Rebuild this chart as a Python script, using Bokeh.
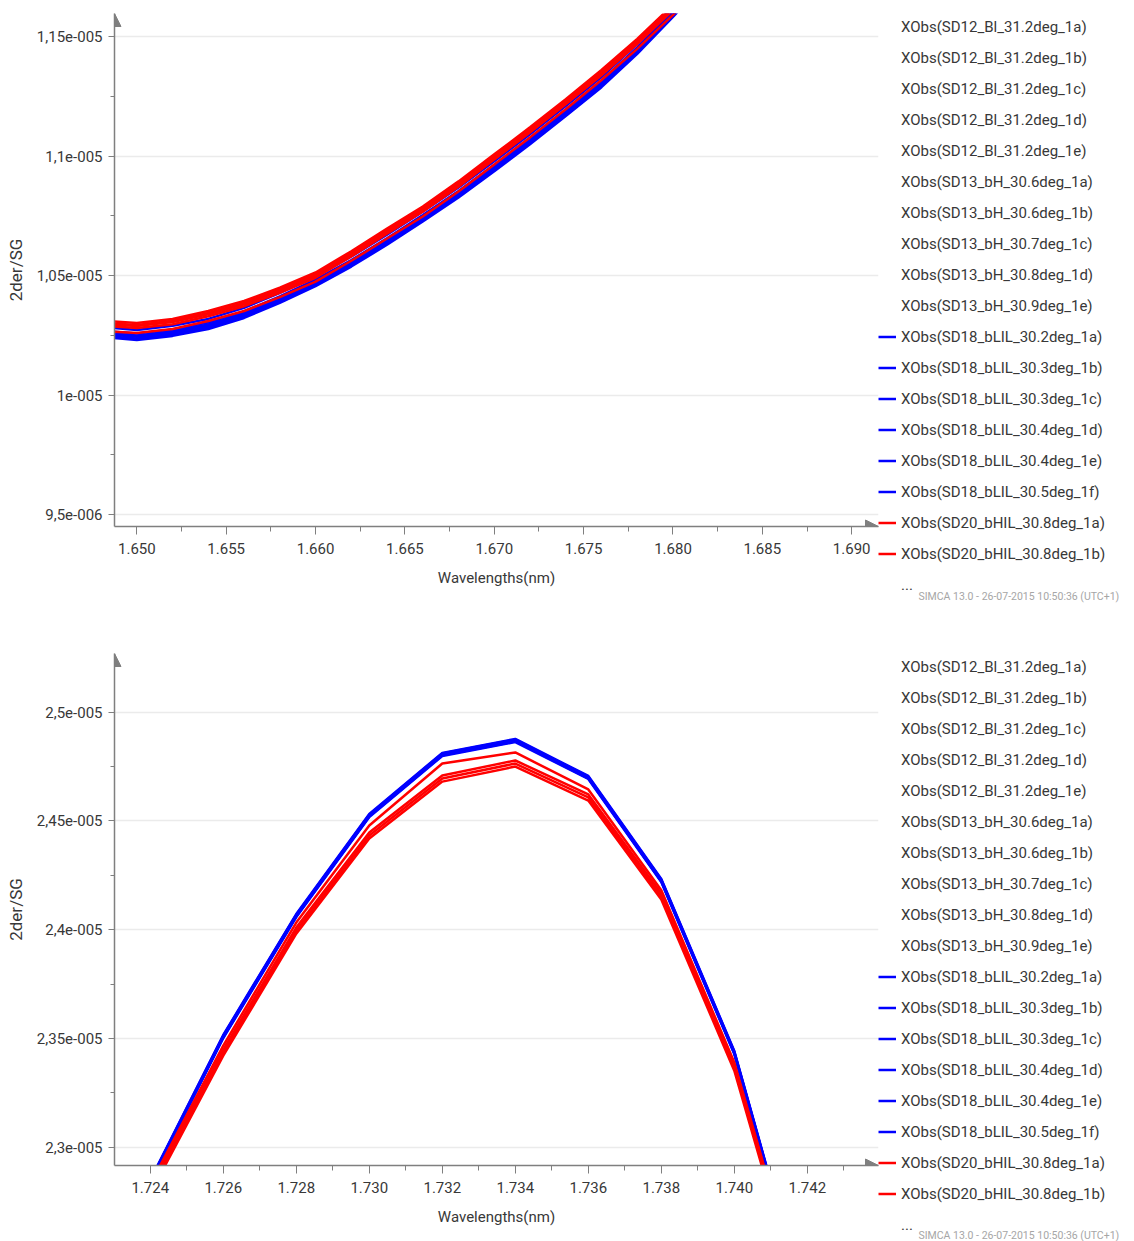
from bokeh.plotting import figure
from bokeh.layouts import column
from bokeh.models import (Range1d, FixedTicker, CustomJSTickFormatter, Legend, LegendItem,
                          Title, Arrow, NormalHead)
from bokeh.embed import file_html
from bokeh.resources import INLINE

FONT = "Roboto"
TXT = "#383838"
AXC = "#7f7f7f"
GRID = "#ebebeb"
BLUE = "#0000ff"
RED = "#ff0000"

# ---------------- legend labels ----------------
names_plain = ["XObs(SD12_Bl_31.2deg_1a)", "XObs(SD12_Bl_31.2deg_1b)", "XObs(SD12_Bl_31.2deg_1c)",
               "XObs(SD12_Bl_31.2deg_1d)", "XObs(SD12_Bl_31.2deg_1e)",
               "XObs(SD13_bH_30.6deg_1a)", "XObs(SD13_bH_30.6deg_1b)", "XObs(SD13_bH_30.7deg_1c)",
               "XObs(SD13_bH_30.8deg_1d)", "XObs(SD13_bH_30.9deg_1e)"]
names_blue = ["XObs(SD18_bLIL_30.2deg_1a)", "XObs(SD18_bLIL_30.3deg_1b)", "XObs(SD18_bLIL_30.3deg_1c)",
              "XObs(SD18_bLIL_30.4deg_1d)", "XObs(SD18_bLIL_30.4deg_1e)", "XObs(SD18_bLIL_30.5deg_1f)"]
names_red = ["XObs(SD20_bHIL_30.8deg_1a)", "XObs(SD20_bHIL_30.8deg_1b)"]
more_label = "..."
footer = "SIMCA 13.0 - 26-07-2015 10:50:36 (UTC+1)"

# ---------------- top chart data (wavelength nm, 2der/SG) ----------------
wl_top = [1648, 1650, 1652, 1654, 1656, 1658, 1660, 1662, 1664, 1666, 1668, 1670, 1672, 1674, 1676, 1678, 1680, 1682]

top_blue_1a = [1.0243e-5, 1.0231e-5, 1.0248e-5, 1.0277e-5, 1.0323e-5, 1.0386e-5, 1.0456e-5, 1.0538e-5, 1.0629e-5, 1.0726e-5, 1.0827e-5, 1.0936e-5, 1.1049e-5, 1.1167e-5, 1.1288e-5, 1.1427e-5, 1.1582e-5, 1.1741e-5]
top_blue_1b = [1.0249e-5, 1.0237e-5, 1.0254e-5, 1.0283e-5, 1.0329e-5, 1.0392e-5, 1.0462e-5, 1.0544e-5, 1.0635e-5, 1.0732e-5, 1.0833e-5, 1.0942e-5, 1.1055e-5, 1.1173e-5, 1.1294e-5, 1.1433e-5, 1.1588e-5, 1.1747e-5]
top_blue_1c = [1.0256e-5, 1.0244e-5, 1.0261e-5, 1.0290e-5, 1.0336e-5, 1.0399e-5, 1.0469e-5, 1.0551e-5, 1.0642e-5, 1.0739e-5, 1.0840e-5, 1.0949e-5, 1.1062e-5, 1.1180e-5, 1.1301e-5, 1.1440e-5, 1.1595e-5, 1.1754e-5]
top_blue_1d = [1.0262e-5, 1.0250e-5, 1.0267e-5, 1.0296e-5, 1.0342e-5, 1.0405e-5, 1.0475e-5, 1.0557e-5, 1.0648e-5, 1.0745e-5, 1.0846e-5, 1.0955e-5, 1.1068e-5, 1.1186e-5, 1.1307e-5, 1.1446e-5, 1.1601e-5, 1.1760e-5]
top_blue_1e = [1.0270e-5, 1.0258e-5, 1.0275e-5, 1.0304e-5, 1.0350e-5, 1.0413e-5, 1.0483e-5, 1.0565e-5, 1.0656e-5, 1.0753e-5, 1.0854e-5, 1.0963e-5, 1.1076e-5, 1.1194e-5, 1.1315e-5, 1.1454e-5, 1.1609e-5, 1.1768e-5]
top_blue_1f = [1.0285e-5, 1.0273e-5, 1.0290e-5, 1.0319e-5, 1.0365e-5, 1.0428e-5, 1.0498e-5, 1.0580e-5, 1.0671e-5, 1.0768e-5, 1.0869e-5, 1.0978e-5, 1.1091e-5, 1.1209e-5, 1.1330e-5, 1.1469e-5, 1.1624e-5, 1.1783e-5]

top_red_1a = [1.0311e-5, 1.0302e-5, 1.0319e-5, 1.0352e-5, 1.0394e-5, 1.0450e-5, 1.0513e-5, 1.0602e-5, 1.0697e-5, 1.0789e-5, 1.0894e-5, 1.1007e-5, 1.1120e-5, 1.1238e-5, 1.1360e-5, 1.1490e-5, 1.1632e-5, 1.1783e-5]
top_red_1b = [1.0303e-5, 1.0294e-5, 1.0311e-5, 1.0344e-5, 1.0386e-5, 1.0442e-5, 1.0505e-5, 1.0594e-5, 1.0689e-5, 1.0781e-5, 1.0886e-5, 1.0999e-5, 1.1112e-5, 1.1230e-5, 1.1352e-5, 1.1482e-5, 1.1624e-5, 1.1775e-5]
top_red_1c = [1.0297e-5, 1.0289e-5, 1.0306e-5, 1.0338e-5, 1.0380e-5, 1.0436e-5, 1.0499e-5, 1.0588e-5, 1.0683e-5, 1.0775e-5, 1.0880e-5, 1.0993e-5, 1.1106e-5, 1.1224e-5, 1.1346e-5, 1.1476e-5, 1.1618e-5, 1.1769e-5]
top_red_1d = [1.0290e-5, 1.0281e-5, 1.0297e-5, 1.0330e-5, 1.0372e-5, 1.0428e-5, 1.0491e-5, 1.0580e-5, 1.0675e-5, 1.0767e-5, 1.0872e-5, 1.0985e-5, 1.1098e-5, 1.1216e-5, 1.1338e-5, 1.1468e-5, 1.1610e-5, 1.1761e-5]
top_red_1e = [1.0269e-5, 1.0260e-5, 1.0277e-5, 1.0310e-5, 1.0352e-5, 1.0410e-5, 1.0475e-5, 1.0562e-5, 1.0655e-5, 1.0747e-5, 1.0852e-5, 1.0965e-5, 1.1078e-5, 1.1196e-5, 1.1318e-5, 1.1448e-5, 1.1590e-5, 1.1741e-5]

top_xticks = [1650, 1655, 1660, 1665, 1670, 1675, 1680, 1685, 1690]
top_xminor = [1652.5, 1657.5, 1662.5, 1667.5, 1672.5, 1677.5, 1682.5, 1687.5]
top_yticks = [9.5e-6, 1.0e-5, 1.05e-5, 1.1e-5, 1.15e-5]
top_yminor = [9.75e-6, 1.025e-5, 1.075e-5, 1.125e-5]

# ---------------- bottom chart data ----------------
wl_bot = [1724, 1726, 1728, 1730, 1732, 1734, 1736, 1738, 1740, 1742]

bot_blue_1a = [2.2849e-5, 2.3516e-5, 2.4072e-5, 2.4532e-5, 2.4813e-5, 2.4877e-5, 2.4707e-5, 2.4233e-5, 2.3442e-5, 2.2242e-5]
bot_blue_1b = [2.2846e-5, 2.3513e-5, 2.4069e-5, 2.4529e-5, 2.4810e-5, 2.4874e-5, 2.4704e-5, 2.4230e-5, 2.3439e-5, 2.2239e-5]
bot_blue_1c = [2.2843e-5, 2.3510e-5, 2.4066e-5, 2.4526e-5, 2.4807e-5, 2.4871e-5, 2.4701e-5, 2.4227e-5, 2.3436e-5, 2.2236e-5]
bot_blue_1d = [2.2840e-5, 2.3507e-5, 2.4063e-5, 2.4523e-5, 2.4804e-5, 2.4868e-5, 2.4698e-5, 2.4224e-5, 2.3433e-5, 2.2233e-5]
bot_blue_1e = [2.2838e-5, 2.3505e-5, 2.4061e-5, 2.4521e-5, 2.4802e-5, 2.4866e-5, 2.4696e-5, 2.4222e-5, 2.3431e-5, 2.2231e-5]
bot_blue_1f = [2.2835e-5, 2.3502e-5, 2.4058e-5, 2.4518e-5, 2.4799e-5, 2.4863e-5, 2.4693e-5, 2.4219e-5, 2.3428e-5, 2.2228e-5]

bot_red_1a = [2.2829e-5, 2.3467e-5, 2.4033e-5, 2.4479e-5, 2.4764e-5, 2.4815e-5, 2.4645e-5, 2.4181e-5, 2.3389e-5, 2.2221e-5]
bot_red_1b = [2.2815e-5, 2.3449e-5, 2.4010e-5, 2.4447e-5, 2.4709e-5, 2.4778e-5, 2.4622e-5, 2.4167e-5, 2.3380e-5, 2.2217e-5]
bot_red_1c = [2.2801e-5, 2.3435e-5, 2.3996e-5, 2.4433e-5, 2.4695e-5, 2.4764e-5, 2.4608e-5, 2.4153e-5, 2.3366e-5, 2.2203e-5]
bot_red_1d = [2.2787e-5, 2.3421e-5, 2.3982e-5, 2.4419e-5, 2.4681e-5, 2.4750e-5, 2.4594e-5, 2.4139e-5, 2.3352e-5, 2.2189e-5]

bot_xticks = [1724, 1726, 1728, 1730, 1732, 1734, 1736, 1738, 1740, 1742]
bot_xminor = [1725, 1727, 1729, 1731, 1733, 1735, 1737, 1739, 1741, 1743]
bot_yticks = [2.3e-5, 2.35e-5, 2.4e-5, 2.45e-5, 2.5e-5]
bot_yminor = [2.325e-5, 2.375e-5, 2.425e-5, 2.475e-5]

Y_FMT = """
const a = Math.abs(tick);
if (a === 0) { return "0"; }
const e = Math.floor(Math.log10(a) + 1e-9);
const m = tick / Math.pow(10, e);
const ms = String(parseFloat(m.toFixed(3))).replace(".", ",");
const es = (e < 0 ? "-" : "+") + String(Math.abs(e)).padStart(3, "0");
return ms + "e" + es;
"""
X_FMT = "return (tick / 1000).toFixed(3);"


def make_plot(wl, blues, reds, xr, yr, xt, xm, yt, ym, fheight, btop, bbottom):
    p = figure(frame_width=764, frame_height=fheight, output_backend="svg", toolbar_location=None,
               x_range=Range1d(*xr), y_range=Range1d(*yr),
               min_border_left=114, min_border_right=0,
               min_border_top=btop, min_border_bottom=bbottom)
    p.outline_line_color = None
    p.background_fill_color = "white"
    p.border_fill_color = "white"

    p.xaxis.ticker = FixedTicker(ticks=xt, minor_ticks=xm)
    p.yaxis.ticker = FixedTicker(ticks=yt, minor_ticks=ym)
    p.xaxis.formatter = CustomJSTickFormatter(code=X_FMT)
    p.yaxis.formatter = CustomJSTickFormatter(code=Y_FMT)
    p.xgrid.visible = False
    p.ygrid.grid_line_color = GRID
    p.ygrid.grid_line_width = 1.5

    for ax in (p.xaxis[0], p.yaxis[0]):
        ax.axis_line_color = AXC
        ax.axis_line_width = 1.5
        ax.major_tick_line_color = AXC
        ax.minor_tick_line_color = AXC
        ax.major_tick_in = 0
        ax.minor_tick_in = 0
        ax.major_label_text_font = FONT
        ax.major_label_text_font_size = "15px"
        ax.major_label_text_color = TXT
        ax.axis_label_text_font = FONT
        ax.axis_label_text_font_style = "normal"
        ax.axis_label_text_color = TXT
    p.xaxis.major_tick_out = 8
    p.xaxis.minor_tick_out = 5
    p.yaxis.major_tick_out = 6
    p.yaxis.minor_tick_out = 4
    p.xaxis.major_label_standoff = 8
    p.yaxis.major_label_standoff = 6
    p.xaxis.axis_label = "Wavelengths(nm)"
    p.yaxis.axis_label = "2der/SG"
    p.xaxis.axis_label_text_font_size = "15px"
    p.yaxis.axis_label_text_font_size = "17px"
    p.xaxis.axis_label_standoff = 12
    p.yaxis.axis_label_standoff = 8

    items = []
    for n in names_plain:
        r = p.line(x=[], y=[], line_alpha=0)
        items.append(LegendItem(label=n, renderers=[r]))
    for i, ys in enumerate(blues):
        r = p.line(wl, ys, line_color=BLUE, line_width=2.5)
        items.append(LegendItem(label=names_blue[i], renderers=[r]))
    for i, ys in enumerate(reds):
        r = p.line(wl, ys, line_color=RED, line_width=2.5)
        if i < len(names_red):
            items.append(LegendItem(label=names_red[i], renderers=[r]))
    r_more = p.line(x=[], y=[], line_alpha=0)
    items.append(LegendItem(label=more_label, renderers=[r_more]))

    leg = Legend(items=items, location="top_left", orientation="vertical", ncols=1,
                 padding=5, margin=0, spacing=10, label_height=21, glyph_height=21,
                 glyph_width=18, label_standoff=5,
                 title=" ", title_text_font_size="1px", title_standoff=2,
                 label_text_font=FONT, label_text_font_size="15px", label_text_color=TXT,
                 border_line_color=None, background_fill_alpha=0)
    p.add_layout(leg, "right")

    # axis arrow heads
    p.add_layout(Arrow(end=NormalHead(size=13, fill_color=AXC, line_color=AXC),
                       x_start=xr[0], y_start=yr[0], x_end=xr[0], y_end=yr[1],
                       line_alpha=0))
    p.add_layout(Arrow(end=NormalHead(size=13, fill_color=AXC, line_color=AXC),
                       x_start=xr[0], y_start=yr[0], x_end=xr[1], y_end=yr[0],
                       line_alpha=0))

    p.add_layout(Title(text=footer, align="left", offset=804, standoff=0, vertical_align="top",
                       text_font=FONT, text_font_size="10.5px", text_font_style="normal",
                       text_color="#a6a6a6"), "below")
    return p


p1 = make_plot(wl_top,
               [top_blue_1a, top_blue_1b, top_blue_1c, top_blue_1d, top_blue_1e, top_blue_1f],
               [top_red_1a, top_red_1b, top_red_1c, top_red_1d, top_red_1e],
               (1648.75, 1691.5), (9.451e-6, 1.1596e-5),
               top_xticks, top_xminor, top_yticks, top_yminor,
               513, 13, 94)
p2 = make_plot(wl_bot,
               [bot_blue_1a, bot_blue_1b, bot_blue_1c, bot_blue_1d, bot_blue_1e, bot_blue_1f],
               [bot_red_1a, bot_red_1b, bot_red_1c, bot_red_1d],
               (1723.02, 1743.95), (2.29159e-5, 2.5270e-5),
               bot_xticks, bot_xminor, bot_yticks, bot_yminor,
               512, 33, 76)

layout = column(p1, p2, spacing=0)
open("out.html", "w").write(file_html(layout, INLINE))
